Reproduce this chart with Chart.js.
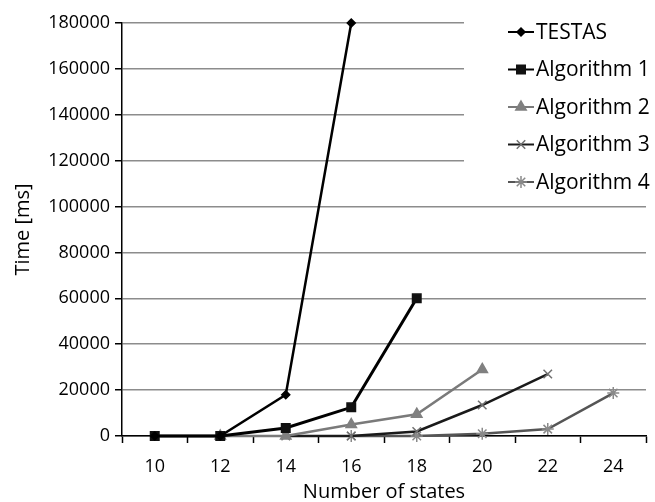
<!DOCTYPE html>
<html>
<head>
<meta charset="utf-8">
<script src="https://cdn.jsdelivr.net/npm/chart.js@4/dist/chart.umd.min.js"></script>
<style>
html,body{margin:0;padding:0;background:#fff;}
#wrap{width:655px;height:502px;}
</style>
</head>
<body>
<div id="wrap"><canvas id="c" width="655" height="502"></canvas></div>
<script>
const categories = ['10', '12', '14', '16', '18', '20', '22', '24'];
const testas = [0, 0, 18000, 180000, null, null, null, null];
const algorithm1 = [0, 0, 3500, 12500, 60000, null, null, null];
const algorithm2 = [null, 0, 0, 5000, 9500, 29000, null, null];
const algorithm3 = [null, null, 0, 0, 2000, 13500, 27000, null];
const algorithm4 = [null, null, null, 0, 0, 1000, 3000, 18700];
const seriesNames = ['TESTAS', 'Algorithm 1', 'Algorithm 2', 'Algorithm 3', 'Algorithm 4'];
const yTicks = [0, 20000, 40000, 60000, 80000, 100000, 120000, 140000, 160000, 180000];

const FONT = "'Open Sans', 'DejaVu Sans', sans-serif";

function ds(label, data, color, pointColor, style, radius, width) {
  return {
    label, data,
    borderColor: color, backgroundColor: pointColor,
    pointBorderColor: pointColor, pointBackgroundColor: pointColor,
    pointStyle: style, pointRadius: radius, pointHoverRadius: radius,
    pointBorderWidth: 1.5, borderWidth: width, tension: 0,
    spanGaps: false, clip: false
  };
}

const legendPlugin = {
  id: 'boxLegend',
  afterDraw(chart) {
    const ctx = chart.ctx;
    ctx.save();
    ctx.fillStyle = '#fff';
    ctx.fillRect(464, 6, 191, 193);
    chart.data.datasets.forEach((d, i) => {
      const y = 32 + i * 37.5;
      ctx.strokeStyle = d.borderColor;
      ctx.lineWidth = 2;
      ctx.beginPath();
      ctx.moveTo(508, y);
      ctx.lineTo(534, y);
      ctx.stroke();
      ctx.fillStyle = d.pointBackgroundColor;
      ctx.strokeStyle = d.pointBorderColor;
      ctx.lineWidth = 1.5;
      Chart.helpers.drawPoint(ctx, {pointStyle: d.pointStyle, radius: d.pointRadius, rotation: 0, borderWidth: 1.5}, 521, y);
      ctx.fillStyle = '#000';
      ctx.font = "21px " + FONT;
      ctx.textBaseline = 'middle';
      ctx.textAlign = 'left';
      ctx.fillText(d.label, 536, y + 1);
    });
    ctx.restore();
  }
};

const bgPlugin = {
  id: 'bg',
  beforeDraw(chart) {
    const ctx = chart.ctx;
    ctx.save();
    ctx.fillStyle = '#fff';
    ctx.fillRect(0, 0, chart.width, chart.height);
    ctx.restore();
  }
};

new Chart(document.getElementById('c'), {
  type: 'line',
  data: {
    labels: categories,
    datasets: [
      ds(seriesNames[0], testas, '#000000', '#000000', 'rectRot', 4, 2.5),
      ds(seriesNames[1], algorithm1, '#000000', '#111111', 'rect', 6, 3),
      ds(seriesNames[2], algorithm2, '#7a7a7a', '#808080', 'triangle', 6, 2.5),
      ds(seriesNames[3], algorithm3, '#1a1a1a', '#707070', 'crossRot', 6, 2.5),
      ds(seriesNames[4], algorithm4, '#555555', '#8a8a8a', 'star', 6, 2.5)
    ]
  },
  options: {
    responsive: false,
    animation: false,
    layout: {padding: {top: 23, right: 9, left: 0, bottom: 0}},
    plugins: {legend: {display: false}, tooltip: {enabled: false}},
    scales: {
      x: {
        type: 'category',
        offset: true,
        grid: {display: true, drawOnChartArea: false, offset: true, tickLength: 7, tickColor: '#000', tickWidth: 1.5},
        border: {color: '#000', width: 1.5},
        ticks: {color: '#000', font: {family: FONT, size: 18}, padding: 13, maxRotation: 0},
        title: {display: true, text: 'Number of states', color: '#000', font: {family: FONT, size: 20, lineHeight: 1}, padding: {top: 0, bottom: 0}},
        afterFit(axis) { axis.height = 66; }
      },
      y: {
        min: 0, max: 180000,
        afterBuildTicks(axis) { axis.ticks = yTicks.map(v => ({value: v})); },
        grid: {color: '#8c8c8c', lineWidth: 1.5, tickColor: '#000', tickLength: 7, tickWidth: 1.5},
        border: {color: '#000', width: 1.5},
        ticks: {color: '#000', font: {family: FONT, size: 18}, padding: 5, callback: v => String(v)},
        title: {display: true, text: 'Time [ms]', color: '#000', font: {family: FONT, size: 20, lineHeight: 1.2}, padding: {top: 11, bottom: 0}},
        afterFit(axis) { axis.width = 122; }
      }
    }
  },
  plugins: [bgPlugin, legendPlugin]
});
</script>
</body>
</html>
